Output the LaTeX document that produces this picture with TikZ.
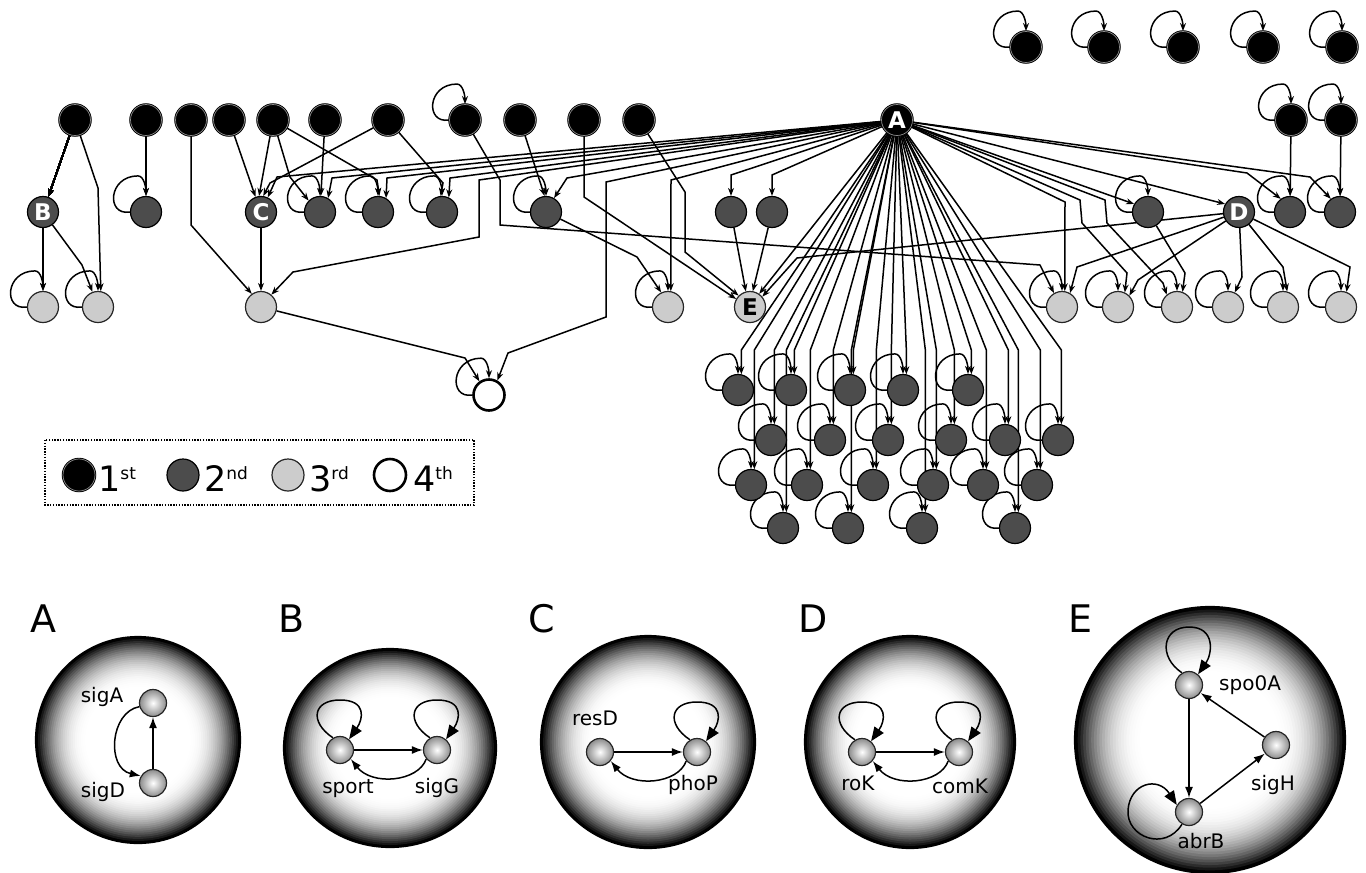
\documentclass[tikz,border=0pt]{standalone}
\usepackage{fontspec}
\setmainfont{DejaVu Sans}
\setsansfont{DejaVu Sans}
\usetikzlibrary{arrows.meta,calc}
\pgfdeclarelayer{bg}
\pgfsetlayers{bg,main}
\newcommand\selfloop[1]{\draw[edg] (#1.west) .. controls +(-24,4) and +(-30,0) .. ([shift={(-8,-20)}]#1.north) .. controls +(6,0) and +(0,-8) .. (#1.north);}
\newcommand\ploop[2]{\draw[pl] (#1.120) .. controls +(-24,-16) and +(-27,0) .. ([shift={(0,-#2)}]#1.center) .. controls +(27,0) and +(14,-20) .. (#1.50);}
\newcommand\sphere[4]{%
  \foreach \k in {0,...,24}{%
    \pgfmathsetmacro\f{1-\k*0.02}%
    \pgfmathsetmacro\p{100*((\f-0.5)/0.5)^2.3}%
    \fill[black!\p] (#1,#2) ellipse [x radius=\f*#3pt, y radius=\f*#4pt];}%
  \fill[white] (#1,#2) ellipse [x radius=0.5*#3pt, y radius=0.5*#4pt];%
  \draw[line width=2.2pt] (#1,#2) ellipse [x radius=#3pt, y radius=#4pt];}
\begin{document}
\begin{tikzpicture}[x=1pt,y=-1pt,
 base/.style={circle, minimum size=31pt, inner sep=0pt, font=\bfseries\fontsize{23}{23}\selectfont},
 n1/.style={base, fill=black, draw=black, double=black!45, double distance=0.7pt, line width=0.9pt, text=white},
 n2/.style={base, fill=black!70, draw=black, line width=1.2pt, text=white},
 n3/.style={base, fill=black!20, draw=black!85, line width=1.2pt, text=black},
 n4/.style={base, fill=white, draw=black, line width=2.6pt},
 edg/.style={line width=1.5pt, -{Stealth[length=8pt,width=6pt]}},
 pn/.style={circle, minimum size=27pt, inner sep=0pt, inner color=white, outer color=black!45, draw=black!85, line width=1.2pt},
 pe/.style={line width=1.5pt, -{Latex[length=11pt,width=8pt]}},
 pl/.style={line width=1.5pt, -{Triangle[length=14pt,width=11pt]}},
 lab/.style={inner sep=0pt, anchor=base, font=\fontsize{20}{20}\selectfont},
 big/.style={inner sep=0pt, anchor=base, font=\fontsize{38}{38}\selectfont},
 leg/.style={anchor=base west, inner sep=0pt, font=\fontsize{35}{35}\selectfont}]

\begin{pgfonlayer}{bg}
\fill[white] (0,0) rectangle (1366,873);
\end{pgfonlayer}
\useasboundingbox (0,0) rectangle (1366,873);

% ---------- first order (black) ----------
\foreach \n/\x in {t1/75,t2/146,t3/191,t4/229,t5/273,t6/325,t7/388,t8/465,t9/520,t10/584,t11/639}
  \node[n1] (\n) at (\x,120) {};
\node[n1] (A) at (897,120) {A};
\foreach \n/\x in {r1/1026,r2/1104,r3/1183,r4/1263,r5/1342}
  \node[n1] (\n) at (\x,47) {};
\node[n1] (r6) at (1291,120) {};
\node[n1] (r7) at (1341,120) {};

% ---------- second order ----------
\node[n2] (B) at (43,212) {B};
\node[n2] (C) at (261,212) {C};
\node[n2] (D) at (1239,212) {D};
\foreach \n/\x in {s2/146,s4/320,s5/378,s6/442,s7/546,s8/731,s9/772,s10/1148,s12/1290,s13/1340}
  \node[n2] (\n) at (\x,212) {};
\foreach \n/\x/\y in {c11/738/390,c12/791/390,c13/850/390,c14/903/390,c15/968/390,
  c21/771/440,c22/830/440,c23/888/440,c24/951/440,c25/1005/440,c26/1058/440,
  c31/751/485,c32/807/485,c33/873/485,c34/933/485,c35/983/485,c36/1037/485,
  c41/783/528,c42/848/528,c43/922/528,c44/1015/528}
  \node[n2] (\n) at (\x,\y) {};

% ---------- third order ----------
\node[n3] (E) at (750,307) {E};
\foreach \n/\x in {l1/43,l2/98,l3/261,l4/668,l6/1062,l7/1118,l8/1177,l9/1228,l10/1283,l11/1341}
  \node[n3] (\n) at (\x,307) {};

% ---------- fourth order ----------
\node[n4] (w) at (489,395) {};

\coordinate (fy) at (0,350);

\begin{pgfonlayer}{bg}
\foreach \n in {l1,l2,s2,s4,s5,s6,s7,t8,l4,s10,s12,s13,l6,l7,l8,l9,l10,l11,r1,r2,r3,r4,r5,r6,r7,w,
  c11,c12,c13,c14,c15,c21,c22,c23,c24,c25,c26,c31,c32,c33,c34,c35,c36,c41,c42,c43,c44}
  \selfloop{\n}
% left part
\draw[edg] (t1) -- (B);
\draw[edg] (t1) -- (98,188) -- (l2.80);
\draw[edg] (B) -- (l1);
\draw[edg] (B) -- (82,265) -- (l2.110);
\draw[edg] (t2) -- (s2);
\draw[edg] (t3) -- (191,225) -- (l3.125);
\draw[edg] (t4) -- (C.110);
\draw[edg] (t5) -- (C.97);
\draw[edg] (t5) -- (290,177) -- (s4.135);
\draw[edg] (t5) -- (377,180) -- (s5.85);
\draw[edg] (t6) -- (s4);
\draw[edg] (t7) -- (270,183) -- (C.82);
\draw[edg] (t7) -- (443,183) -- (s6.95);
\draw[edg] (t9) -- (s7.95);
\draw[edg] (C) -- (l3);
\draw[edg] (l3) -- (465,358) -- (w.125);
\draw[edg] (t8) -- (500,180) -- (500,225) -- (1040,265) -- (l6.120);
\draw[edg] (s7) -- (637,257) -- (l4.115);
\draw[edg] (t10) -- (584,197) -- (E.150);
\draw[edg] (t11) -- (685,192) -- (685,252) -- (E.135);
\draw[edg] (s8) -- (E.105);
\draw[edg] (s9) -- (E.80);
\draw[edg] (D) -- (797,258) -- (E.40);
% A to the left
\draw[edg] (A) -- (277,177) -- (C.65);
\draw[edg] (A) -- (332,178) -- (s4.60);
\draw[edg] (A) -- (387,178) -- (s5.60);
\draw[edg] (A) -- (450,178) -- (s6.65);
\draw[edg] (A) -- (567,178) -- (s7.60);
\draw[edg] (A) -- (479,180) -- (479,237) -- (293,272) -- (l3.50);
\draw[edg] (A) -- (606,182) -- (606,317) -- (508,353) -- (w.60);
\draw[edg] (A) -- (671,180) -- (l4.80);
\draw[edg] (A) -- (731,175) -- (s8);
\draw[edg] (A) -- (772,175) -- (s9);
\draw[edg] (A) -- (E.55);
% A to the right
\draw[edg] (A) -- (s10.150);
\draw[edg] (A) -- (D.150);
\draw[edg] (A) -- (1247,173) -- (s12.125);
\draw[edg] (A) -- (1310,177) -- (s13.125);
\draw[edg] (r6) -- (s12);
\draw[edg] (r7) -- (s13);
\draw[edg] (A) -- (1065,202) -- (l6.80);
\draw[edg] (A) -- (1080,200) -- (1082,223) -- (1127,273) -- (l7.65);
\draw[edg] (A) -- (1105,200) -- (1107,223) -- (1163,283) -- (l8.130);
\draw[edg] (s10) -- (1185,273) -- (l8.70);
\draw[edg] (D) -- (1077,267) -- (l6.60);
\draw[edg] (D) -- (1138,280) -- (l7.45);
\draw[edg] (D) -- (1242,277) -- (l9.65);
\draw[edg] (D) -- (1283,267) -- (l10.75);
\draw[edg] (D) -- (1350,267) -- (l11.70);
% fan
\foreach \n in {c11,c12,c13,c14,c15,c21,c22,c23,c24,c25,c26,c31,c32,c33,c34,c35,c36,c41,c42,c43,c44}
  \draw[edg] (A) -- (\n.78 |- fy) -- (\n.78);
\end{pgfonlayer}

% ---------- legend ----------
\draw[line width=1.2pt, dash pattern=on 1.4pt off 1.4pt] (45,440) rectangle (474,505);
\node[n1, minimum size=32pt] (k1) at (79,475) {};
\node[n2, minimum size=32pt] (k2) at (183,475) {};
\node[n3, minimum size=32pt] (k3) at (288,475) {};
\node[n4, minimum size=32pt] (k4) at (390,475) {};
\node[leg] (k1t) at (98,491) {1\raisebox{12pt}{\fontsize{17}{17}\selectfont st}};
\node[leg] (k2t) at (204,491) {2\raisebox{12pt}{\fontsize{17}{17}\selectfont nd}};
\node[leg] (k3t) at (309,491) {3\raisebox{12pt}{\fontsize{17}{17}\selectfont rd}};
\node[leg] (k4t) at (413,491) {4\raisebox{12pt}{\fontsize{17}{17}\selectfont th}};

% ---------- bottom panels ----------
\sphere{138}{740}{102}{103}
\sphere{390}{748}{106}{99}
\sphere{648}{742}{107}{106}
\sphere{910}{742}{105}{106}
\sphere{1210}{740}{135}{133}

\node[big] (LA) at (43,632) {A};
\node[big] (LB) at (292,632) {B};
\node[big] (LC) at (542,632) {C};
\node[big] (LD) at (813,632) {D};
\node[big] (LE) at (1080,632) {E};

% A
\node[pn] (pa1) at (153,703) {};
\node[pn] (pa2) at (153,783) {};
\node[lab] (ta1) at (102,702) {sigA};
\node[lab] (ta2) at (103,797) {sigD};
\draw[pe] (pa2) -- (pa1);
\draw[pe] (pa1.195) .. controls (110,712) and (106,768) .. (pa2.150);
% B
\node[pn] (pb1) at (340,750) {};
\node[pn] (pb2) at (437,750) {};
\node[lab] (tb1) at (348,793) {sport};
\node[lab] (tb2) at (437,793) {sigG};
\draw[pe] (pb1) -- (pb2);
\draw[pe] (pb2.220) .. controls (418,782) and (372,786) .. (pb1.-40);
\ploop{pb1}{50}
\ploop{pb2}{50}
% C
\node[pn] (pc1) at (600,752) {};
\node[pn] (pc2) at (697,752) {};
\node[lab] (tc1) at (595,725) {resD};
\node[lab] (tc2) at (693,790) {phoP};
\draw[pe] (pc1) -- (pc2);
\draw[pe] (pc2.220) .. controls (678,784) and (632,788) .. (pc1.-40);
\ploop{pc2}{50}
% D
\node[pn] (pd1) at (862,752) {};
\node[pn] (pd2) at (959,752) {};
\node[lab] (td1) at (858,790) {roK};
\node[lab] (td2) at (960,793) {comK};
\draw[pe] (pd1) -- (pd2);
\draw[pe] (pd2.220) .. controls (940,784) and (894,788) .. (pd1.-40);
\ploop{pd1}{50}
\ploop{pd2}{50}
% E
\node[pn] (pe1) at (1189,685) {};
\node[pn] (pe2) at (1189,812) {};
\node[pn] (pe3) at (1276,745) {};
\node[lab, anchor=base west] (te1) at (1219,690) {spo0A};
\node[lab] (te3) at (1273,790) {sigH};
\node[lab] (te2) at (1201,848) {abrB};
\draw[pe] (pe1) -- (pe2);
\draw[pe] (pe2) -- (pe3);
\draw[pe] (pe3) -- (pe1);
\ploop{pe1}{58}
\draw[pl] (pe2.240) .. controls (1165,852) and (1126,837) .. (1128,810) .. controls (1130,783) and (1158,776) .. (pe2.150);
\end{tikzpicture}
\end{document}
